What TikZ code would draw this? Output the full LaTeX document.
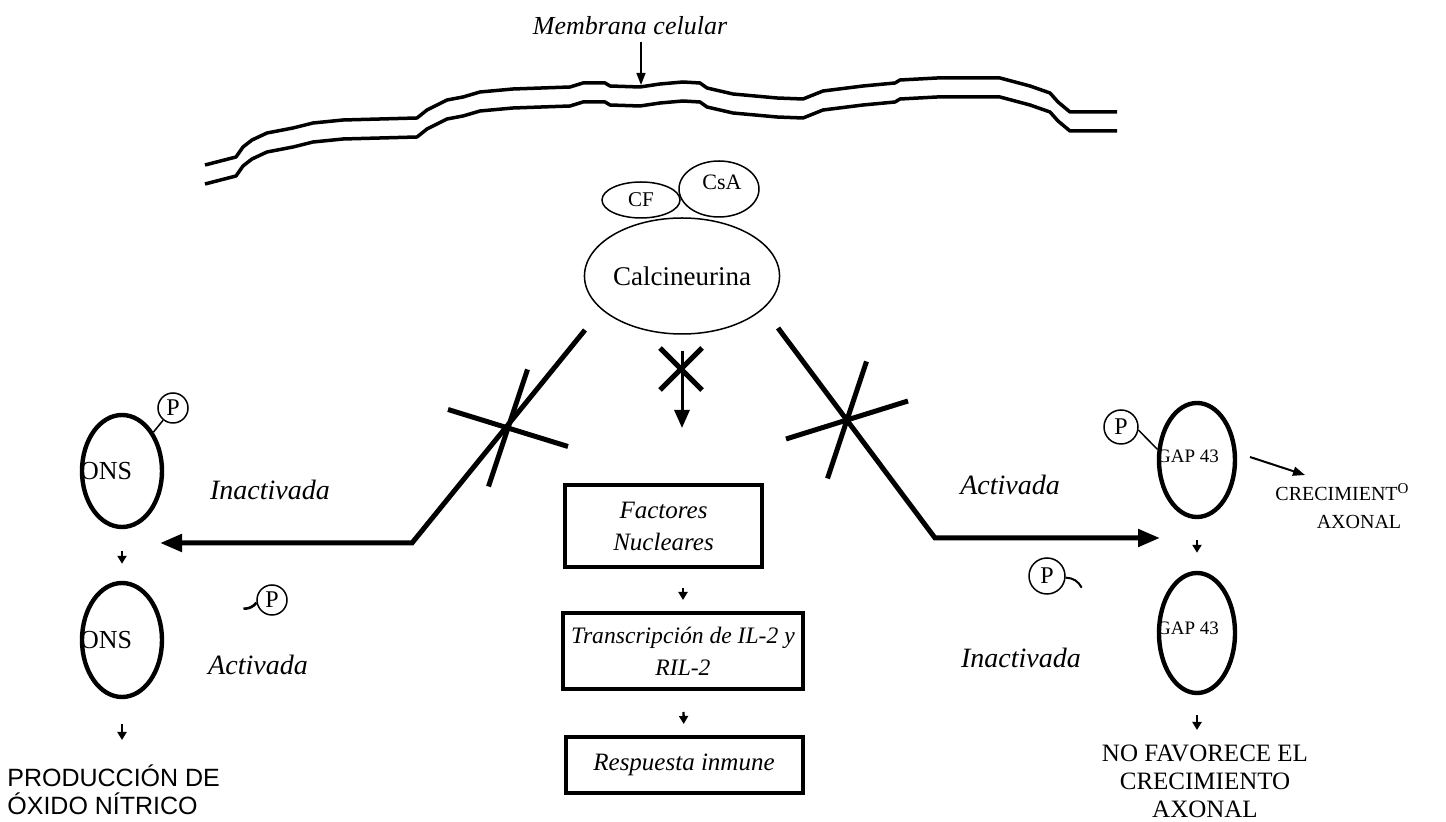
\documentclass[tikz,border=0pt]{standalone}
\usepackage{fontspec}
\setmainfont{Liberation Serif}
\newfontfamily\sansf{Liberation Sans}
\usetikzlibrary{arrows.meta,shapes.geometric}
\begin{document}
\begin{tikzpicture}[x=0.5pt,y=-0.5pt,
  membrane/.style={line width=1.75pt,line join=round},
  thinell/.style={draw,ellipse,line width=0.75pt,inner sep=0pt,fill=white},
  protein/.style={draw,ellipse,line width=2.2pt,inner sep=0pt},
  pcircle/.style={draw,circle,line width=0.75pt,inner sep=0pt,minimum size=15pt,fill=white,font=\fontsize{12}{12}\selectfont},
  boxn/.style={draw,line width=2pt,inner sep=0pt,align=center,font=\fontsize{12.5}{16}\selectfont\itshape},
  branch/.style={line width=2.5pt,line join=miter},
  bigtip/.style={-{Triangle[length=11pt,width=8.5pt]}},
  cross/.style={line width=2.5pt},
  smallarr/.style={line width=1.2pt,-{Triangle[length=4pt,width=4.5pt]}},
  lab/.style={font=\fontsize{14}{16}\selectfont\itshape},
  plain/.style={inner sep=0pt},
]
\useasboundingbox (0,0) rectangle (1446,822);

% membrane
\foreach \dy in {0,19}{
\draw[membrane,shift={(0,\dy)}] (205,165) -- (236,157) -- (243,147) -- (252,140) -- (267,133) -- (293,128) -- (313,123) -- (343,120) -- (417,118) -- (427,110) -- (447,100) -- (463,97) -- (480,92) -- (513,89) -- (570,87) -- (583,83) -- (605,83) -- (610,86) -- (640,87) -- (660,84) -- (683,82) -- (700,83) -- (707,88) -- (733,94) -- (777,98) -- (803,99) -- (823,91) -- (863,86) -- (895,83) -- (900,80) -- (937,78) -- (1000,78) -- (1030,86) -- (1050,93) -- (1058,102) -- (1070,112) -- (1117,112);
}
\node[lab,font=\fontsize{13}{15}\selectfont\itshape] (mem) at (630,26) {Membrana celular};
\coordinate (memtip) at (641,85);
\draw[line width=0.8pt,-{Triangle[length=6pt,width=4.5pt]}] (mem.south -| memtip) -- (memtip);

% calcineurin complex
\node[thinell,minimum width=97pt,minimum height=58pt,font=\fontsize{13.5}{16}\selectfont] (cal) at (682,276) {Calcineurina};
\node[thinell,minimum width=39pt,minimum height=18pt,font=\fontsize{10.5}{12}\selectfont] (cf) at (641,200) {CF};
\node[thinell,minimum width=40pt,minimum height=28pt] (csa) at (719,189) {};
\node[plain,font=\fontsize{11}{12}\selectfont] (csat) at (722,182) {CsA};

% boxes
\node[boxn,minimum width=98.5pt,minimum height=41pt] (box1) at (663.5,526) {Factores\\Nucleares};
\node[boxn,minimum width=120pt,minimum height=38pt,font=\fontsize{11.8}{16}\selectfont\itshape] (box2) at (683,651) {Transcripción de IL-2 y\\RIL-2};
\node[boxn,minimum width=118.5pt,minimum height=28pt] (box3) at (684,765) {Respuesta inmune};

% central blocked arrow
\draw[line width=1.5pt,-{Triangle[length=9pt,width=7.5pt]},shorten <=8pt,shorten >=27.5pt] (cal.south) -- (cal.south |- box1.north);
\coordinate (cx) at (681,369);
\draw[cross] (cx) ++(-21,-21) -- ++(42,42) (cx) ++(21,-21) -- ++(-42,42);

\draw[smallarr,shorten <=9.5pt,shorten >=5.5pt] (box1.south -| box2.north) -- (box2.north);
\draw[smallarr,shorten <=10.5pt,shorten >=5.5pt] (box2.south) -- (box3.north);

% left branch
\coordinate (l1) at (585,330);
\coordinate (l2) at (412,543);
\coordinate (l3) at (160,543);
\draw[branch,bigtip] (l1) -- (l2) -- (l3);
\draw[cross] (527.5,369.5) -- (488.5,486.5) (448,409.5) -- (568,446.5);

% right branch
\coordinate (r1) at (778,328);
\coordinate (r2) at (935,538);
\coordinate (r3) at (1160,538);
\draw[branch,bigtip] (r1) -- (r2) -- (r3);
\draw[cross] (866.5,361.5) -- (827.5,478.5) (786,439) -- (908,401);

% left ONS
\node[protein,minimum width=40pt,minimum height=56pt] (ons1) at (122,471) {};
\node[plain,anchor=west,font=\fontsize{13}{13}\selectfont] (ons1t) at (ons1.west) {ONS};
\node[protein,minimum width=40pt,minimum height=57pt] (ons2) at (122,640) {};
\node[plain,anchor=west,font=\fontsize{13}{13}\selectfont] (ons2t) at (ons2.west) {ONS};
\node[pcircle] (p1) at (173,408) {P};
\draw[line width=0.75pt] (p1) -- (ons1);
\draw[smallarr,shorten <=11pt,shorten >=8.5pt] (ons1.south) -- (ons2.north);
\coordinate (a1) at (122,740);
\draw[smallarr,shorten <=12.5pt] (ons2.south) -- (a1);
\node[pcircle] (p2) at (272,600) {P};
\draw[line width=1.3pt] (p2.190) to[bend left=25] ++(-13,6);
\node[lab] (inl) at (270,490) {Inactivada};
\node[lab] (acl) at (258,665) {Activada};
\node[plain,anchor=west,align=left,font=\sansf\fontsize{12.5}{14}\selectfont] (prod) at (7,790) {PRODUCCIÓN DE\\ÓXIDO NÍTRICO};

% right GAP 43
\node[protein,minimum width=38pt,minimum height=57pt] (gap1) at (1197,460) {};
\node[plain,anchor=west,font=\fontsize{9.5}{10}\selectfont] (gap1t) at ([yshift=2pt]gap1.west) {GAP 43};
\node[protein,minimum width=38pt,minimum height=60pt] (gap2) at (1197,633) {};
\node[plain,anchor=west,font=\fontsize{9.5}{10}\selectfont] (gap2t) at ([yshift=2.5pt]gap2.west) {GAP 43};
\node[pcircle,minimum size=17pt] (p3) at (1121,427) {P};
\draw[line width=0.75pt] (p3.-10) -- (gap1.165);
\draw[smallarr,shorten <=10.5pt,shorten >=9pt] (gap1.south) -- (gap2.north);
\coordinate (a2) at (1197,730);
\draw[smallarr,shorten <=10pt] (gap2.south) -- (a2);
\node[pcircle,minimum size=18pt] (p4) at (1047,576) {P};
\draw[line width=1pt] (p4.-5) to[bend left=30] ++(16,10);
\node[lab] (acr) at (1010,485) {Activada};
\node[lab] (inr) at (1021,658) {Inactivada};
\node[plain,font=\fontsize{10}{12}\selectfont] (crec) at (1342,492) {CRECIMIENT{\fontsize{7.5}{8}\selectfont\raisebox{0.45em}{O}}};
\node[plain,font=\fontsize{10}{12}\selectfont] (axo) at (1359,522) {AXONAL};
\coordinate (g1) at (1250,457);
\coordinate (g2) at (1305,475);
\draw[line width=1pt,-{Triangle[length=6pt,width=4.5pt]}] (g1) -- (g2);
\node[plain,align=center,font=\fontsize{12.5}{14}\selectfont] (nofav) at (1205,781) {NO FAVORECE EL\\CRECIMIENTO\\AXONAL};
\end{tikzpicture}
\end{document}
